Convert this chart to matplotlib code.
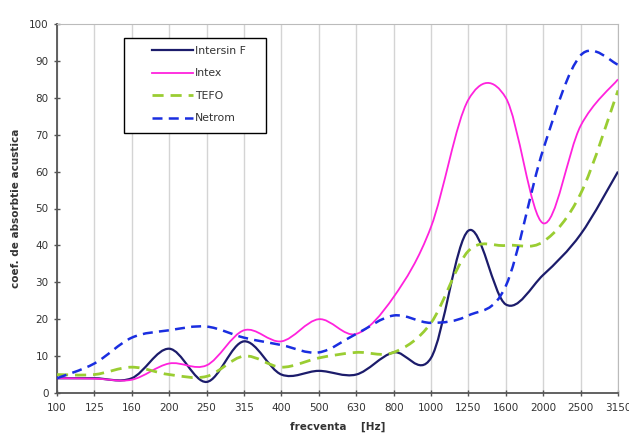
import numpy as np
import matplotlib
matplotlib.use("Agg")
import matplotlib.pyplot as plt
from matplotlib.path import Path
from matplotlib.patches import PathPatch, Rectangle
from matplotlib.lines import Line2D

freq_labels = ["100", "125", "160", "200", "250", "315", "400", "500", "630",
               "800", "1000", "1250", "1600", "2000", "2500", "3150"]

intersin_f = [4, 4, 4, 12, 3, 14, 5, 6, 5, 11, 9.5, 44, 24, 32, 43, 60]
intex = [4, 3.9, 3.6, 8, 7.5, 17, 14, 20, 16, 26, 45, 79.5, 80, 46, 72.4, 85]
tefo = [5, 5, 7, 5, 4.5, 10, 7, 9.5, 11, 11, 19, 38.5, 40, 41, 54, 82]
netrom = [4, 8, 15, 17, 18, 15, 13, 11, 16, 21, 19, 21, 29, 66, 91.5, 89]

series = [
    ("Intersin F", intersin_f, "#1c1c6b", "-", 1.6),
    ("Intex", intex, "#ff22dd", "-", 1.3),
    ("TEFO", tefo, "#9acd32", (0, (4, 2.5)), 2.0),
    ("Netrom", netrom, "#1a2ee0", (0, (4, 2.5)), 1.8),
]


def smooth_path(xs, ys):
    # excel-like smoothed line: catmull-rom segments as cubic beziers
    pts = np.column_stack([xs, ys]).astype(float)
    n = len(pts)
    verts = [pts[0]]
    codes = [Path.MOVETO]
    for i in range(n - 1):
        p0 = pts[i - 1] if i > 0 else pts[i]
        p1 = pts[i]
        p2 = pts[i + 1]
        p3 = pts[i + 2] if i + 2 < n else pts[i + 1]
        c1 = p1 + (p2 - p0) / 6.0
        c2 = p2 - (p3 - p1) / 6.0
        verts += [c1, c2, p2]
        codes += [Path.CURVE4] * 3
    return Path(verts, codes)


fig = plt.figure(figsize=(6.29, 4.37), dpi=100)
ax = fig.add_axes([57 / 629, 1 - 393 / 437, 561 / 629, 369 / 437])

x = np.arange(len(freq_labels))
handles = []
for name, vals, color, ls, lw in series:
    patch = PathPatch(smooth_path(x, vals), facecolor="none", edgecolor=color,
                      linestyle=ls, linewidth=lw, zorder=3)
    ax.add_patch(patch)
    handles.append(Line2D([], [], color=color, linestyle=ls, linewidth=lw))

ax.set_xlim(0, len(freq_labels) - 1)
ax.set_ylim(0, 100)
ax.set_xticks(x)
ax.set_xticklabels(freq_labels)
ax.set_yticks(np.arange(0, 101, 10))
ax.xaxis.grid(True, color="#d4d4d4", linewidth=1.0)
ax.set_axisbelow(True)

for s in ["top", "right"]:
    ax.spines[s].set_color("#bbbbbb")
    ax.spines[s].set_linewidth(0.8)
for s in ["left", "bottom"]:
    ax.spines[s].set_color("#555555")
    ax.spines[s].set_linewidth(1.3)

ax.tick_params(axis="both", direction="inout", length=5, width=1.0,
               color="#555555", labelsize=7.5, labelcolor="#333333")
ax.tick_params(axis="x", pad=5)

ax.set_ylabel("coef. de absorbtie acustica", fontsize=7.5, fontweight="bold",
              color="#333333", labelpad=6)
ax.set_xlabel("frecventa    [Hz]", fontsize=7.5, fontweight="bold",
              color="#333333", labelpad=6)

# legend: wide box like the original with the entries padded in from the left
box = Rectangle((0.119, 0.705), 0.253, 0.257, transform=ax.transAxes,
                facecolor="white", edgecolor="black", linewidth=1.0, zorder=4)
ax.add_patch(box)
leg = ax.legend(handles, [s[0] for s in series], loc="upper left",
                bbox_to_anchor=(0.169, 0.941), fontsize=7.8, frameon=False,
                handlelength=3.8, labelspacing=1.16, borderpad=0,
                handletextpad=0.2, borderaxespad=0)
leg.set_zorder(5)
for t in leg.get_texts():
    t.set_color("#333333")

fig.savefig("out.png", dpi=100)
